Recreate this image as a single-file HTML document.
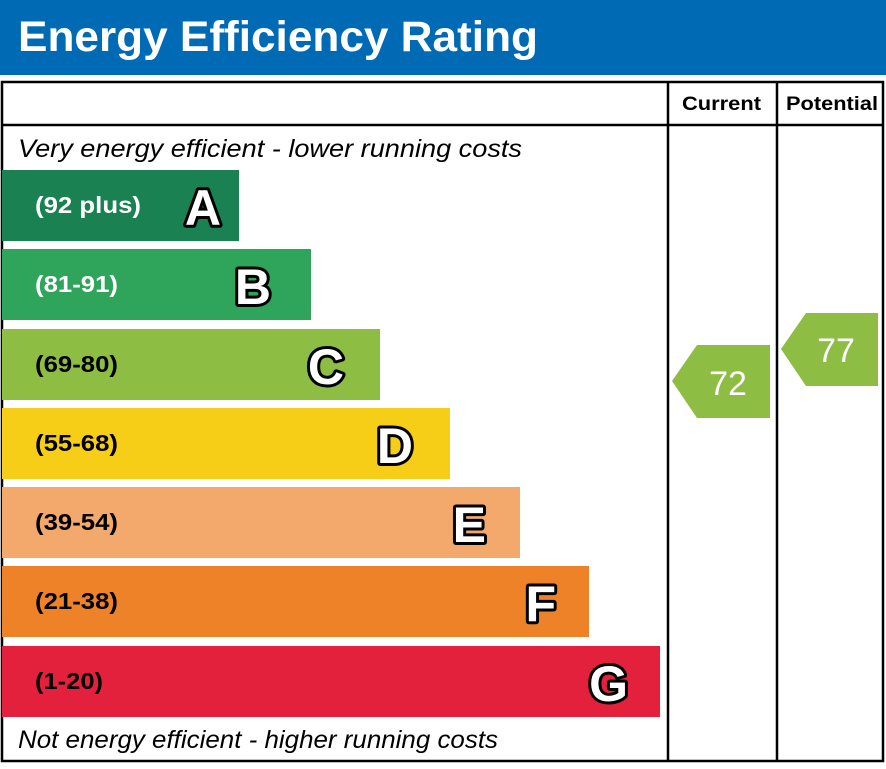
<!DOCTYPE html>
<html><head><style>body{margin:0;background:#fff}</style></head><body>
<svg width="886" height="764" viewBox="0 0 886 764" xmlns="http://www.w3.org/2000/svg" font-family="Liberation Sans, Arial, sans-serif">
<rect x="0" y="0" width="886" height="75" fill="#006ab4"/>
<text x="18" y="51" font-size="43" font-weight="bold" fill="#fff" textLength="520" lengthAdjust="spacingAndGlyphs">Energy Efficiency Rating</text>
<rect x="2" y="82" width="881" height="679" fill="none" stroke="#000" stroke-width="2.5"/>
<line x1="2" y1="125" x2="883" y2="125" stroke="#000" stroke-width="2.5"/>
<line x1="668" y1="82" x2="668" y2="761" stroke="#000" stroke-width="2.5"/>
<line x1="777" y1="82" x2="777" y2="761" stroke="#000" stroke-width="2.5"/>
<text x="682" y="110" font-size="19" font-weight="bold" textLength="79" lengthAdjust="spacingAndGlyphs">Current</text>
<text x="786" y="110" font-size="19" font-weight="bold" textLength="92" lengthAdjust="spacingAndGlyphs">Potential</text>
<text x="18" y="157" font-size="25" font-style="italic" textLength="504" lengthAdjust="spacingAndGlyphs">Very energy efficient - lower running costs</text>
<text x="18" y="748" font-size="25" font-style="italic" textLength="480" lengthAdjust="spacingAndGlyphs">Not energy efficient - higher running costs</text>
<g font-weight="bold">
<rect x="2" y="170" width="237" height="71" fill="#1a8252"/>
<text x="35" y="213" font-size="23" fill="#fff" textLength="106" lengthAdjust="spacingAndGlyphs">(92 plus)</text>
<rect x="2" y="249" width="309" height="71" fill="#2ea55a"/>
<text x="35" y="292" font-size="23" fill="#fff" textLength="83" lengthAdjust="spacingAndGlyphs">(81-91)</text>
<rect x="2" y="329" width="378" height="71" fill="#8dbd43"/>
<text x="35" y="372" font-size="23" fill="#000" textLength="83" lengthAdjust="spacingAndGlyphs">(69-80)</text>
<rect x="2" y="408" width="448" height="71" fill="#f6cd17"/>
<text x="35" y="451" font-size="23" fill="#000" textLength="83" lengthAdjust="spacingAndGlyphs">(55-68)</text>
<rect x="2" y="487" width="518" height="71" fill="#f2a96b"/>
<text x="35" y="530" font-size="23" fill="#000" textLength="83" lengthAdjust="spacingAndGlyphs">(39-54)</text>
<rect x="2" y="566" width="587" height="71" fill="#ed8228"/>
<text x="35" y="609" font-size="23" fill="#000" textLength="83" lengthAdjust="spacingAndGlyphs">(21-38)</text>
<rect x="2" y="646" width="658" height="71" fill="#e3213d"/>
<text x="35" y="689" font-size="23" fill="#000" textLength="68" lengthAdjust="spacingAndGlyphs">(1-20)</text>
<g font-size="50" fill="#fff" stroke="#000" stroke-width="6" paint-order="stroke" stroke-linejoin="round" text-anchor="end">
<text x="221" y="225">A</text>
<text x="271" y="304">B</text>
<text x="344" y="384">C</text>
<text x="413" y="463">D</text>
<text x="486" y="542">E</text>
<text x="556" y="621">F</text>
<text x="628" y="701">G</text>
</g>
</g>
<polygon points="672,381 697,345 770,345 770,418 697,418" fill="#8dbd43"/>
<text x="728" y="395" font-size="34" fill="#fff" text-anchor="middle">72</text>
<polygon points="781,349 806,313 878,313 878,386 806,386" fill="#8dbd43"/>
<text x="836" y="362" font-size="34" fill="#fff" text-anchor="middle">77</text>
</svg>
</body></html>
